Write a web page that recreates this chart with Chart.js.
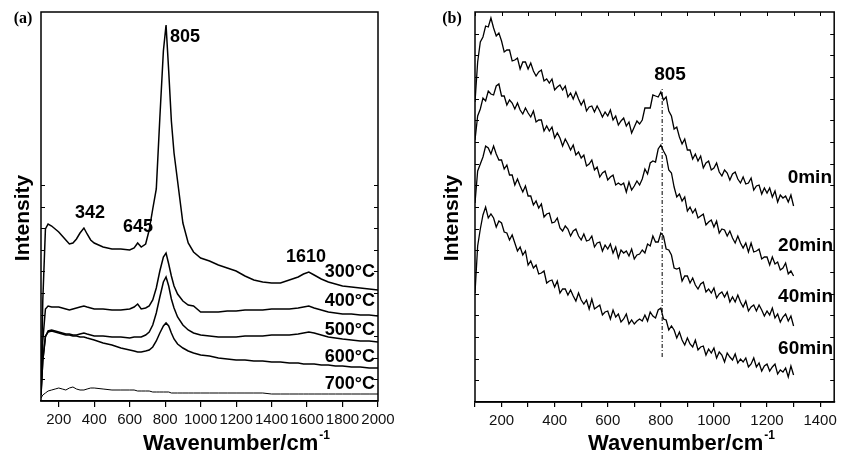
<!DOCTYPE html>
<html><head><meta charset="utf-8">
<script src="https://cdn.jsdelivr.net/npm/chart.js@4.4.1/dist/chart.umd.min.js"></script>
<style>
html,body{margin:0;padding:0;background:#fff;width:842px;height:456px;overflow:hidden}
#wrap{position:relative;width:842px;height:456px}
canvas{position:absolute;top:0}
#ca{left:0}
#cb{left:421px}
</style></head><body>
<div id="wrap"><canvas id="ca" width="421" height="456"></canvas><canvas id="cb" width="421" height="456"></canvas></div>
<script>
// ---------- Panel (a): temperature series ----------
const wavenumbersA = [100,110,125,140,160,180,200,220,240,260,280,300,320,342,360,380,400,450,500,550,600,625,645,665,690,710,730,750,770,790,805,820,835,850,870,900,930,960,1000,1050,1100,1150,1200,1250,1300,1350,1400,1450,1500,1550,1580,1610,1640,1680,1720,1760,1800,1850,1900,1950,2000];
const intensity300C = [8,100,172,177,175,172,169,165,161,157,158,162,168,173,167,161,158,154,152,152,151,153,158,154,157,171,192,212,283,350,376,330,280,248,220,178,158,149,143,140,136,133,130,125,121,119,118,118,121,124,127,129,126,122,119,117,115,114,113,112,111];
const intensity400C = [6,60,92,95,94,94,94,93,92,91,92,93,94,95,94,93,92,92,91,91,92,94,97,92,93,95,101,113,130,144,148,137,125,115,107,100,96,95,89,89,89,90,90,91,91,91,92,92,92,93,94,95,93,91,89,88,87,87,86,86,85];
const intensity500C = [6,40,64,70,71,70,69,68,67,67,66,66,67,68,67,66,65,65,64,64,63,64,64,64,66,69,76,88,104,119,124,115,102,93,84,76,71,68,66,65,64,64,64,65,65,65,66,66,66,67,68,69,68,66,64,63,62,61,60,60,59];
const intensity600C = [6,40,65,69,70,69,68,67,66,66,65,65,64,64,63,62,61,58,56,53,51,50,49,49,50,51,54,60,68,75,78,75,68,62,57,53,50,48,46,45,43,42,41,41,40,40,39,39,38,38,37,37,37,36,36,35,35,34,34,33,33];
const intensity700C = [3,6,8,10,11,12,13,12,11,13,14,12,11,11,12,13,13,12,11,11,11,11,10,10,10,10,9,9,9,9,9,9,8,8,8,8,8,8,8,8,8,8,8,8,8,8,7,7,7,7,7,7,7,7,7,7,7,7,7,7,7];
const seriesLabelsA = ['300°C','400°C','500°C','600°C','700°C'];
const tickLabelsA = [200,400,600,800,1000,1200,1400,1600,1800,2000];
const peakLabelsA = ['805','342','645','1610'];

// ---------- Panel (b): time series ----------
const wavenumbersB = [100,110,120,130,140,150,160,170,180,190,200,210,220,230,240,250,260,270,280,290,300,310,320,330,340,350,360,370,380,390,400,410,420,430,440,450,460,470,480,490,500,510,520,530,540,550,560,570,580,590,600,610,620,630,640,650,660,670,680,690,700,710,720,730,740,750,760,770,780,790,800,810,820,830,840,850,860,870,880,890,900,910,920,930,940,950,960,970,980,990,1000,1010,1020,1030,1040,1050,1060,1070,1080,1090,1100,1110,1120,1130,1140,1150,1160,1170,1180,1190,1200,1210,1220,1230,1240,1250,1260,1270,1280,1290,1300];
const intensity0min = [300,340,360,365,376,375,384,374,366,369,361,350,352,352,341,342,344,333,340,340,333,339,331,326,330,332,321,323,319,323,312,315,317,312,316,305,309,303,310,303,297,302,291,295,296,290,296,291,285,290,286,292,282,286,277,281,284,276,280,269,275,281,278,282,294,294,294,307,306,305,310,302,305,291,286,273,275,265,258,263,252,252,243,248,241,246,234,239,241,232,234,239,230,226,232,229,222,228,230,223,219,225,218,219,224,212,216,217,208,214,209,214,205,211,200,207,204,206,200,207,196];
const intensity20min = [262,286,293,304,301,311,308,307,316,318,306,306,297,302,299,293,299,292,288,294,289,285,291,280,282,282,271,276,271,275,264,269,264,256,263,258,252,257,247,250,244,247,236,238,242,232,235,225,229,231,222,225,227,217,219,217,219,210,220,212,216,221,217,223,233,228,239,241,240,253,257,251,246,232,229,215,205,208,201,205,191,195,189,193,184,186,188,177,180,182,175,181,169,173,172,166,171,164,159,166,159,154,159,150,159,150,151,153,143,145,145,137,145,138,140,132,134,139,128,131,126];
const intensity40min = [199,231,238,245,256,254,248,256,248,242,242,233,237,227,227,217,223,216,210,216,206,206,197,201,194,198,185,188,189,179,180,184,174,171,176,173,166,171,173,166,162,168,161,162,166,155,159,160,151,157,153,158,149,155,144,152,149,151,146,153,143,147,148,152,149,158,156,166,160,160,169,166,153,152,147,134,133,134,121,126,126,119,124,117,113,118,120,110,113,109,114,104,108,110,105,110,100,105,100,107,100,95,101,91,95,97,91,97,92,86,91,87,94,84,88,80,85,88,81,86,76];
const intensity60min = [109,156,173,187,195,184,188,184,175,181,179,170,169,162,167,159,151,155,147,151,137,141,134,137,128,129,131,119,121,122,115,121,109,113,113,107,112,106,101,109,102,98,102,93,103,93,95,97,87,90,91,83,92,85,88,80,83,88,78,82,78,81,83,81,87,81,90,86,84,92,94,83,82,72,76,72,64,70,62,57,64,58,55,62,52,55,56,47,53,49,54,44,50,47,40,49,45,42,48,39,43,40,44,35,38,44,35,39,31,36,38,31,35,38,28,32,30,34,25,36,27];
const seriesLabelsB = ['0min','20min','40min','60min'];
const tickValuesB = [100,200,300,400,500,600,700,800,900,1000,1100,1200,1300,1400];
const peakPositionB = [805, 805];
const peakLineSpanB = [45, 315];

// ---------- helpers ----------
Chart.defaults.font.family = '"Liberation Sans", Arial, sans-serif';
Chart.defaults.color = '#000';
const toXY = (xs, ys) => xs.map((x, i) => ({x, y: ys[i]}));
const lineSet = (label, xs, ys, extra) => Object.assign({
  label, data: toXY(xs, ys), borderColor: '#000', borderWidth: 1.3,
  pointRadius: 0, tension: 0, fill: false
}, extra || {});

function decorPlugin(cfg) {
  return {
    id: 'decor',
    afterDraw(chart) {
      const {ctx, chartArea: a, scales: {x, y}} = chart;
      ctx.save();
      ctx.strokeStyle = '#000';
      ctx.lineWidth = 1.5;
      ctx.strokeRect(a.left, a.top, a.right - a.left, a.bottom - a.top);
      ctx.lineWidth = 1;
      for (let k = 1; k <= cfg.yTickCount; k++) {
        const py = Math.round(y.getPixelForValue(k * cfg.yStep)) + 0.5;
        ctx.beginPath();
        ctx.moveTo(a.left, py); ctx.lineTo(a.left + 4, py);
        ctx.moveTo(a.right, py); ctx.lineTo(a.right - 4, py);
        ctx.stroke();
      }
      (cfg.topTicks || []).forEach(v => {
        const px = Math.round(x.getPixelForValue(v)) + 0.5;
        ctx.beginPath(); ctx.moveTo(px, a.top); ctx.lineTo(px, a.top + 4); ctx.stroke();
      });
      ctx.fillStyle = '#000';
      cfg.texts.forEach(t => {
        ctx.font = t.font; ctx.textAlign = t.align; ctx.textBaseline = 'middle';
        ctx.fillText(t.text, t.x, t.y);
      });
      ctx.save();
      ctx.translate(cfg.yTitle[0], cfg.yTitle[1]);
      ctx.rotate(-Math.PI / 2);
      ctx.font = 'bold 21px "Liberation Sans", Arial';
      ctx.textAlign = 'center'; ctx.textBaseline = 'middle';
      ctx.fillText('Intensity', 0, 0);
      ctx.restore();
      ctx.font = 'bold 22px "Liberation Sans", Arial';
      ctx.textAlign = 'left'; ctx.textBaseline = 'alphabetic';
      ctx.fillText('Wavenumber/cm', cfg.xTitle[0], cfg.xTitle[1]);
      const w = ctx.measureText('Wavenumber/cm').width;
      ctx.font = 'bold 12px "Liberation Sans", Arial';
      ctx.fillText('-1', cfg.xTitle[0] + w + 1, cfg.xTitle[1] - 11);
      ctx.restore();
    }
  };
}

const LBL = 'bold 18px "Liberation Sans", Arial';
const LBLB = 'bold 19px "Liberation Sans", Arial';
const PANEL = 'bold 16px "Liberation Serif", "Times New Roman", serif';

// ---------- Chart (a) ----------
new Chart(document.getElementById('ca'), {
  type: 'line',
  data: {
    datasets: [
      lineSet(seriesLabelsA[0], wavenumbersA, intensity300C, {borderWidth: 1.5}),
      lineSet(seriesLabelsA[1], wavenumbersA, intensity400C, {borderWidth: 1.5}),
      lineSet(seriesLabelsA[2], wavenumbersA, intensity500C, {borderWidth: 1.5}),
      lineSet(seriesLabelsA[3], wavenumbersA, intensity600C, {borderWidth: 1.5}),
      lineSet(seriesLabelsA[4], wavenumbersA, intensity700C, {borderWidth: 1})
    ]
  },
  options: {
    responsive: false, animation: false, events: [],
    layout: {padding: {left: 41, top: 12, right: 43, bottom: 0}},
    plugins: {legend: {display: false}, tooltip: {enabled: false}},
    scales: {
      x: {
        type: 'linear', min: 100, max: 2000,
        afterBuildTicks: s => { s.ticks = tickLabelsA.map(v => ({value: v})); },
        afterFit: s => { s.height = 55; },
        grid: {display: true, drawOnChartArea: false, drawTicks: true, tickLength: 6, color: '#000', lineWidth: 1.2},
        border: {display: true, color: '#000', width: 1.5},
        ticks: {autoSkip: false, maxRotation: 0, minRotation: 0, padding: 4, color: '#111', font: {size: 15},
          callback: v => String(v)}
      },
      y: {min: 0, max: 389, display: false}
    }
  },
  plugins: [decorPlugin({
    yStep: 389 / 18, yTickCount: 10,
    yTitle: [23, 218], xTitle: [143, 450],
    texts: [
      {text: '(a)', x: 23, y: 19, align: 'center', font: PANEL},
      {text: peakLabelsA[0], x: 170, y: 37, align: 'left', font: LBL},
      {text: peakLabelsA[1], x: 90, y: 213, align: 'center', font: LBL},
      {text: peakLabelsA[2], x: 138, y: 227, align: 'center', font: LBL},
      {text: peakLabelsA[3], x: 306, y: 257, align: 'center', font: LBL},
      {text: seriesLabelsA[0], x: 375, y: 272, align: 'right', font: LBL},
      {text: seriesLabelsA[1], x: 375, y: 301, align: 'right', font: LBL},
      {text: seriesLabelsA[2], x: 375, y: 330, align: 'right', font: LBL},
      {text: seriesLabelsA[3], x: 375, y: 357, align: 'right', font: LBL},
      {text: seriesLabelsA[4], x: 375, y: 384, align: 'right', font: LBL}
    ]
  })]
});

// ---------- Chart (b) ----------
new Chart(document.getElementById('cb'), {
  type: 'line',
  data: {
    datasets: [
      lineSet(seriesLabelsB[0], wavenumbersB, intensity0min),
      lineSet(seriesLabelsB[1], wavenumbersB, intensity20min),
      lineSet(seriesLabelsB[2], wavenumbersB, intensity40min),
      lineSet(seriesLabelsB[3], wavenumbersB, intensity60min),
      lineSet('805 marker', peakPositionB, peakLineSpanB, {borderWidth: 1, borderDash: [4, 2, 1, 2]})
    ]
  },
  options: {
    responsive: false, animation: false, events: [],
    layout: {padding: {left: 54, top: 12, right: 5, bottom: 0}},
    plugins: {legend: {display: false}, tooltip: {enabled: false}},
    scales: {
      x: {
        type: 'linear', min: 100, max: 1453,
        afterBuildTicks: s => { s.ticks = tickValuesB.map(v => ({value: v})); },
        afterFit: s => { s.height = 54; },
        grid: {display: true, drawOnChartArea: false, drawTicks: true, tickLength: 5, color: '#000', lineWidth: 1.2},
        border: {display: true, color: '#000', width: 1.5},
        ticks: {autoSkip: false, maxRotation: 0, minRotation: 0, padding: 5, color: '#111', font: {size: 15},
          callback: v => (v % 200 === 0 ? String(v) : '')}
      },
      y: {min: 0, max: 390, display: false}
    }
  },
  plugins: [decorPlugin({
    yStep: 390 / 18, yTickCount: 17, topTicks: tickValuesB,
    yTitle: [31, 218], xTitle: [167, 450],
    texts: [
      {text: '(b)', x: 31, y: 19, align: 'center', font: PANEL},
      {text: '805', x: 249, y: 75, align: 'center', font: LBLB},
      {text: seriesLabelsB[0], x: 411, y: 178, align: 'right', font: LBLB},
      {text: seriesLabelsB[1], x: 412, y: 246, align: 'right', font: LBLB},
      {text: seriesLabelsB[2], x: 412, y: 297, align: 'right', font: LBLB},
      {text: seriesLabelsB[3], x: 412, y: 349, align: 'right', font: LBLB}
    ]
  })]
});
</script>
</body></html>
